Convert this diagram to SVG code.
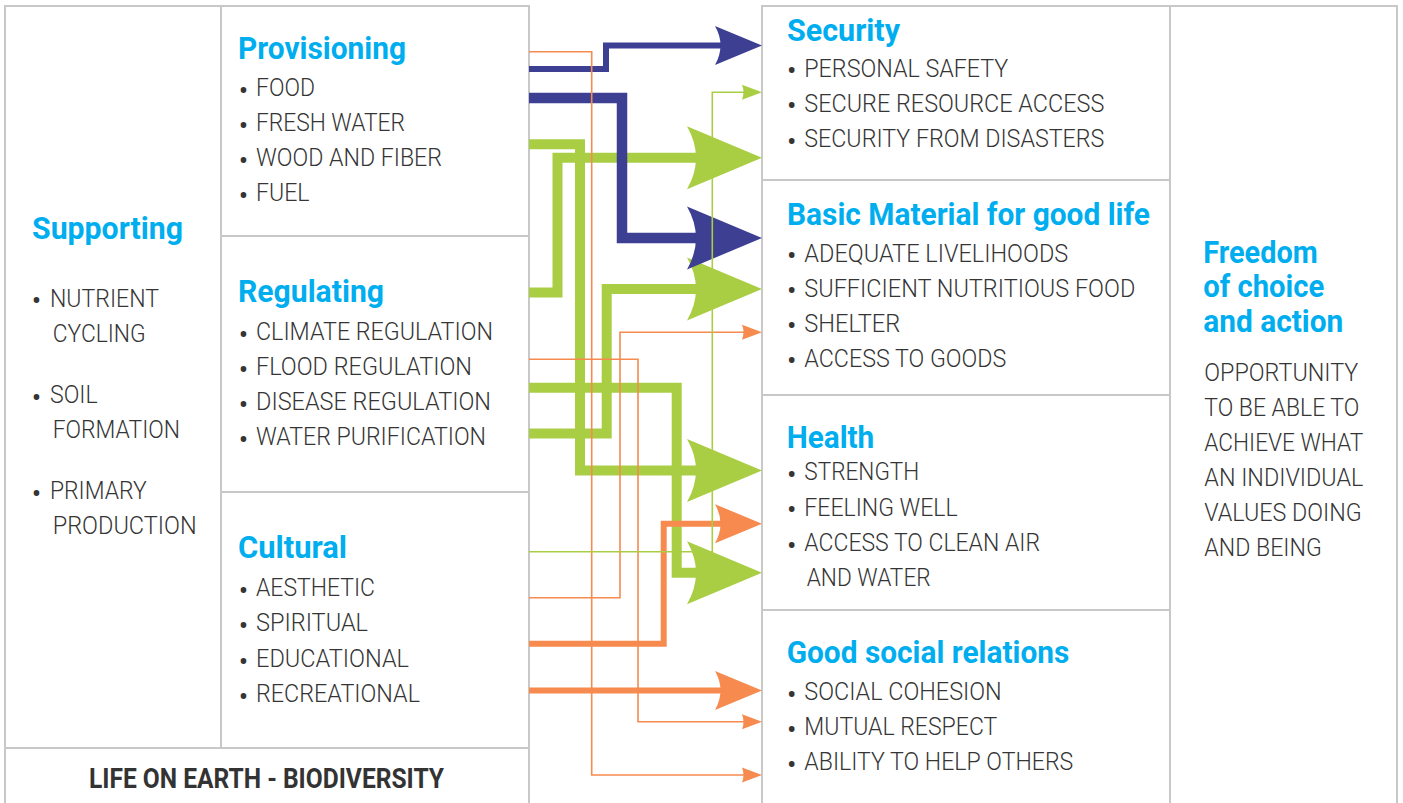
<svg xmlns="http://www.w3.org/2000/svg" width="1403" height="803" viewBox="0 0 1403 803">
<style>
.cell{fill:#fff;stroke:#c8c8c8;stroke-width:2}
.h{font-family:Roboto,"Liberation Sans",sans-serif;font-weight:700;font-size:31px;fill:#00aeef}
.t{font-family:Roboto,"Liberation Sans",sans-serif;font-weight:300;font-size:26.5px;fill:#353535}
.bu{font-family:Roboto,"Liberation Sans",sans-serif;font-size:28px;fill:#353535;text-anchor:middle}
.bio{font-family:Roboto,"Liberation Sans",sans-serif;font-weight:700;font-size:28px;fill:#333}
.c{fill:none;stroke-linejoin:miter;stroke-linecap:butt}
.blue{stroke:#3d3f93}
.green{stroke:#a9ce44}
.orange{stroke:#f68a4f}
</style>
<defs>
<marker id="aLB" viewBox="0 -32 75 64" markerWidth="75" markerHeight="64" refX="13" refY="0" orient="auto" markerUnits="userSpaceOnUse"><path d="M75,0 L0,-31.5 Q18,0 0,31.5 Z" fill="#3d3f93"/></marker>
<marker id="aLG" viewBox="0 -32 75 64" markerWidth="75" markerHeight="64" refX="13" refY="0" orient="auto" markerUnits="userSpaceOnUse"><path d="M75,0 L0,-31.5 Q18,0 0,31.5 Z" fill="#a9ce44"/></marker>
<marker id="aMB" viewBox="0 -20 47 40" markerWidth="47" markerHeight="40" refX="9" refY="0" orient="auto" markerUnits="userSpaceOnUse"><path d="M47,0 L0,-19.5 Q11,0 0,19.5 Z" fill="#3d3f93"/></marker>
<marker id="aMO" viewBox="0 -20 47 40" markerWidth="47" markerHeight="40" refX="9" refY="0" orient="auto" markerUnits="userSpaceOnUse"><path d="M47,0 L0,-19.5 Q11,0 0,19.5 Z" fill="#f68a4f"/></marker>
<marker id="aSG" viewBox="0 -8 20 16" markerWidth="20" markerHeight="16" refX="2" refY="0" orient="auto" markerUnits="userSpaceOnUse"><path d="M20,0 L0,-7.5 Q3,0 0,7.5 Z" fill="#a9ce44"/></marker>
<marker id="aSO" viewBox="0 -8 20 16" markerWidth="20" markerHeight="16" refX="2" refY="0" orient="auto" markerUnits="userSpaceOnUse"><path d="M20,0 L0,-7.5 Q3,0 0,7.5 Z" fill="#f68a4f"/></marker>
</defs>
<rect width="1403" height="803" fill="#fff"/>

<g id="supporting">
<rect class="cell" x="5" y="6" width="216" height="742"/>
<text class="h" x="32" y="239" textLength="151" lengthAdjust="spacingAndGlyphs">Supporting</text>
<text class="bu" x="36.5" y="310">•</text>
<text class="t" x="50" y="306.7" textLength="109" lengthAdjust="spacingAndGlyphs">NUTRIENT</text>
<text class="t" x="52.7" y="341.7" textLength="93" lengthAdjust="spacingAndGlyphs">CYCLING</text>
<text class="bu" x="36.5" y="407">•</text>
<text class="t" x="50" y="403.3" textLength="47.7" lengthAdjust="spacingAndGlyphs">SOIL</text>
<text class="t" x="52.7" y="437.7" textLength="127.3" lengthAdjust="spacingAndGlyphs">FORMATION</text>
<text class="bu" x="36.5" y="502.5">•</text>
<text class="t" x="50" y="499" textLength="96.7" lengthAdjust="spacingAndGlyphs">PRIMARY</text>
<text class="t" x="52.7" y="534" textLength="144" lengthAdjust="spacingAndGlyphs">PRODUCTION</text>
</g>

<g id="provisioning">
<rect class="cell" x="221" y="6" width="308" height="230"/>
<text class="h" x="238" y="59" textLength="168" lengthAdjust="spacingAndGlyphs">Provisioning</text>
<text class="bu" x="243.5" y="99.5">•</text>
<text class="t" x="256" y="95.7" textLength="59" lengthAdjust="spacingAndGlyphs">FOOD</text>
<text class="bu" x="243.5" y="134.5">•</text>
<text class="t" x="256" y="130.7" textLength="149" lengthAdjust="spacingAndGlyphs">FRESH WATER</text>
<text class="bu" x="243.5" y="169.5">•</text>
<text class="t" x="256" y="165.7" textLength="186" lengthAdjust="spacingAndGlyphs">WOOD AND FIBER</text>
<text class="bu" x="243.5" y="204.5">•</text>
<text class="t" x="256" y="201" textLength="53.5" lengthAdjust="spacingAndGlyphs">FUEL</text>
</g>

<g id="regulating">
<rect class="cell" x="221" y="236" width="308" height="256"/>
<text class="h" x="238" y="302" textLength="146" lengthAdjust="spacingAndGlyphs">Regulating</text>
<text class="bu" x="243.5" y="343.5">•</text>
<text class="t" x="256" y="340" textLength="237" lengthAdjust="spacingAndGlyphs">CLIMATE REGULATION</text>
<text class="bu" x="243.5" y="378.5">•</text>
<text class="t" x="256" y="375" textLength="216" lengthAdjust="spacingAndGlyphs">FLOOD REGULATION</text>
<text class="bu" x="243.5" y="413.5">•</text>
<text class="t" x="256" y="410" textLength="235" lengthAdjust="spacingAndGlyphs">DISEASE REGULATION</text>
<text class="bu" x="243.5" y="448.5">•</text>
<text class="t" x="256" y="445" textLength="230" lengthAdjust="spacingAndGlyphs">WATER PURIFICATION</text>
</g>

<g id="cultural">
<rect class="cell" x="221" y="492" width="308" height="256"/>
<text class="h" x="238" y="558" textLength="109" lengthAdjust="spacingAndGlyphs">Cultural</text>
<text class="bu" x="243.5" y="599.5">•</text>
<text class="t" x="256" y="596" textLength="119" lengthAdjust="spacingAndGlyphs">AESTHETIC</text>
<text class="bu" x="243.5" y="634.5">•</text>
<text class="t" x="256" y="631" textLength="112" lengthAdjust="spacingAndGlyphs">SPIRITUAL</text>
<text class="bu" x="243.5" y="670.5">•</text>
<text class="t" x="256" y="667" textLength="153" lengthAdjust="spacingAndGlyphs">EDUCATIONAL</text>
<text class="bu" x="243.5" y="705.5">•</text>
<text class="t" x="256" y="702" textLength="164" lengthAdjust="spacingAndGlyphs">RECREATIONAL</text>
</g>

<g id="biodiversity">
<rect class="cell" x="5" y="748" width="524" height="70"/>
<text class="bio" x="89" y="788" textLength="355" lengthAdjust="spacingAndGlyphs">LIFE ON EARTH - BIODIVERSITY</text>
</g>

<g id="security">
<rect class="cell" x="762" y="6" width="408" height="174"/>
<text class="h" x="787" y="40.5" textLength="113" lengthAdjust="spacingAndGlyphs">Security</text>
<text class="bu" x="791.7" y="80">•</text>
<text class="t" x="804.3" y="76.5" textLength="204" lengthAdjust="spacingAndGlyphs">PERSONAL SAFETY</text>
<text class="bu" x="791.7" y="115">•</text>
<text class="t" x="804.3" y="111.5" textLength="300" lengthAdjust="spacingAndGlyphs">SECURE RESOURCE ACCESS</text>
<text class="bu" x="791.7" y="150.5">•</text>
<text class="t" x="804.3" y="147" textLength="300" lengthAdjust="spacingAndGlyphs">SECURITY FROM DISASTERS</text>
</g>

<g id="basic-material">
<rect class="cell" x="762" y="180" width="408" height="215"/>
<text class="h" x="787" y="225" textLength="363" lengthAdjust="spacingAndGlyphs">Basic Material for good life</text>
<text class="bu" x="791.7" y="265">•</text>
<text class="t" x="804.3" y="261.5" textLength="264" lengthAdjust="spacingAndGlyphs">ADEQUATE LIVELIHOODS</text>
<text class="bu" x="791.7" y="300">•</text>
<text class="t" x="804.3" y="296.5" textLength="331" lengthAdjust="spacingAndGlyphs">SUFFICIENT NUTRITIOUS FOOD</text>
<text class="bu" x="791.7" y="335">•</text>
<text class="t" x="804.3" y="331.5" textLength="96" lengthAdjust="spacingAndGlyphs">SHELTER</text>
<text class="bu" x="791.7" y="370">•</text>
<text class="t" x="804.3" y="366.5" textLength="202" lengthAdjust="spacingAndGlyphs">ACCESS TO GOODS</text>
</g>

<g id="health">
<rect class="cell" x="762" y="395" width="408" height="215"/>
<text class="h" x="786.7" y="447.7" textLength="87.6" lengthAdjust="spacingAndGlyphs">Health</text>
<text class="bu" x="791.7" y="483.5">•</text>
<text class="t" x="804.3" y="480" textLength="115" lengthAdjust="spacingAndGlyphs">STRENGTH</text>
<text class="bu" x="791.7" y="519.2">•</text>
<text class="t" x="804.3" y="515.7" textLength="153.4" lengthAdjust="spacingAndGlyphs">FEELING WELL</text>
<text class="bu" x="791.7" y="554.5">•</text>
<text class="t" x="804.3" y="551" textLength="235.7" lengthAdjust="spacingAndGlyphs">ACCESS TO CLEAN AIR</text>
<text class="t" x="806.7" y="586" textLength="124" lengthAdjust="spacingAndGlyphs">AND WATER</text>
</g>

<g id="social-relations">
<rect class="cell" x="762" y="610" width="408" height="210"/>
<text class="h" x="786.7" y="662.7" textLength="282.6" lengthAdjust="spacingAndGlyphs">Good social relations</text>
<text class="bu" x="791.7" y="703.5">•</text>
<text class="t" x="804.3" y="700" textLength="197.4" lengthAdjust="spacingAndGlyphs">SOCIAL COHESION</text>
<text class="bu" x="791.7" y="738.5">•</text>
<text class="t" x="804.3" y="735" textLength="193" lengthAdjust="spacingAndGlyphs">MUTUAL RESPECT</text>
<text class="bu" x="791.7" y="773.5">•</text>
<text class="t" x="804.3" y="770" textLength="269" lengthAdjust="spacingAndGlyphs">ABILITY TO HELP OTHERS</text>
</g>

<g id="freedom">
<rect class="cell" x="1170" y="6" width="227" height="814"/>
<text class="h" x="1203.3" y="263.3" textLength="114.4" lengthAdjust="spacingAndGlyphs">Freedom</text>
<text class="h" x="1203.3" y="297.3" textLength="121" lengthAdjust="spacingAndGlyphs">of choice</text>
<text class="h" x="1203.3" y="331.7" textLength="140" lengthAdjust="spacingAndGlyphs">and action</text>
<text class="t" x="1204.3" y="381" textLength="154" lengthAdjust="spacingAndGlyphs">OPPORTUNITY</text>
<text class="t" x="1204.3" y="416" textLength="155" lengthAdjust="spacingAndGlyphs">TO BE ABLE TO</text>
<text class="t" x="1204.3" y="451" textLength="159" lengthAdjust="spacingAndGlyphs">ACHIEVE WHAT</text>
<text class="t" x="1204.3" y="486" textLength="159" lengthAdjust="spacingAndGlyphs">AN INDIVIDUAL</text>
<text class="t" x="1204.3" y="521" textLength="157.4" lengthAdjust="spacingAndGlyphs">VALUES DOING</text>
<text class="t" x="1204.3" y="556" textLength="117.4" lengthAdjust="spacingAndGlyphs">AND BEING</text>
</g>

<g id="connectors">
<path class="c green" stroke-width="10" d="M529,144.3 H580 V470.5 H700" marker-end="url(#aLG)"/>
<path class="c green" stroke-width="10" d="M529,292.5 H557.5 V157.7 H700" marker-end="url(#aLG)"/>
<path class="c green" stroke-width="10" d="M529,433.5 H606.7 V289 H700" marker-end="url(#aLG)"/>
<path class="c green" stroke-width="10" d="M529,387.7 H676.7 V572.7 H700" marker-end="url(#aLG)"/>
<path class="c blue" stroke-width="6" d="M529,69 H606 V45.5 H724" marker-end="url(#aMB)"/>
<path class="c blue" stroke-width="10.5" d="M529,98 H622 V238 H700" marker-end="url(#aLB)"/>
<path class="c orange" stroke-width="6" d="M529,643.7 H663.7 V523.7 H724" marker-end="url(#aMO)"/>
<path class="c orange" stroke-width="6" d="M529,690.5 H724" marker-end="url(#aMO)"/>
<path class="c orange" stroke-width="1.6" d="M529,51.7 H591.7 V775 H744" marker-end="url(#aSO)"/>
<path class="c orange" stroke-width="1.6" d="M529,359.3 H638 V721.7 H744" marker-end="url(#aSO)"/>
<path class="c orange" stroke-width="1.6" d="M529,597.7 H620 V332.3 H744" marker-end="url(#aSO)"/>
<path class="c green" stroke-width="1.6" d="M529,551.7 H712.3 V92.3 H744" marker-end="url(#aSG)"/>
</g>
</svg>
